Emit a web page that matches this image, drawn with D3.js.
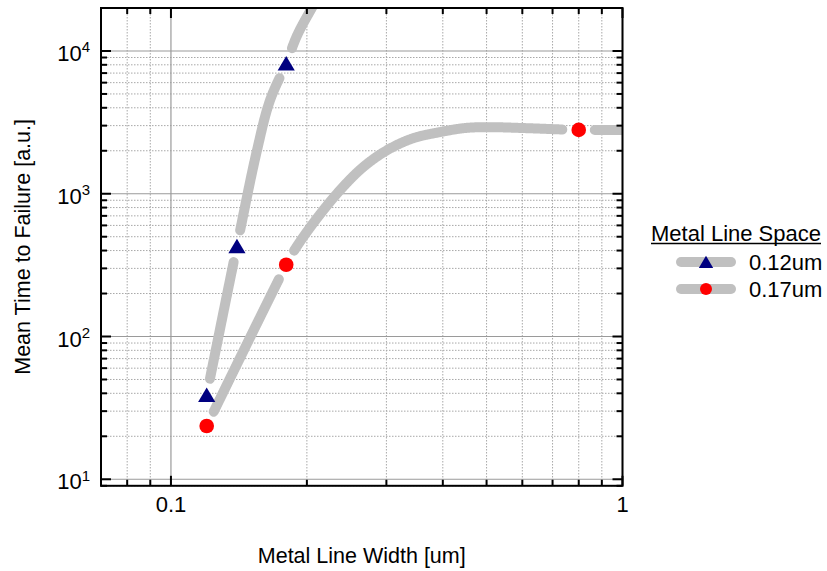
<!DOCTYPE html>
<html>
<head>
<meta charset="utf-8">
<script src="https://cdn.jsdelivr.net/npm/d3@7"></script>
<style>
  body { margin: 0; background: #fff; }
  text { font-family: "Liberation Sans", Arial, sans-serif; fill: #000; }
</style>
</head>
<body>
<svg id="chart" width="827" height="571"></svg>
<script>
// ---- data ----
const seriesNames = ["0.12um", "0.17um"];

// measured points, metal line space 0.12um
const width012 = [0.12, 0.14, 0.18];
const mttf012 = [39, 430, 8200];

// measured points, metal line space 0.17um
const width017 = [0.12, 0.18, 0.8];
const mttf017 = [23.6, 318, 2800];

// trend lines through each series
const trendX012 = [0.12, 0.14, 0.155, 0.1656, 0.18, 0.1905, 0.2051, 0.215];
const trendY012 = [39, 430, 2000, 4480, 8200, 12950, 20000, 26000];
const trendX017 = [0.12, 0.18, 0.1865, 0.2062, 0.2366, 0.266, 0.3005, 0.343, 0.3937, 0.45, 0.51, 0.6132, 0.763, 0.8, 1.0];
const trendY017 = [23.6, 318, 390, 617, 1055, 1529, 2012, 2441, 2700, 2890, 2925, 2880, 2808, 2800, 2800];

// axis ticks
const xMajorTicks = [0.1, 1];
const xMajorLabels = ["0.1", "1"];
const xMinorTicks = [0.07, 0.08, 0.09, 0.2, 0.3, 0.4, 0.5, 0.6, 0.7, 0.8, 0.9];
const yMajorExponents = [1, 2, 3, 4];
const yMinorTicks = [9, 20, 30, 40, 50, 60, 70, 80, 90, 200, 300, 400, 500, 600, 700, 800, 900,
                     2000, 3000, 4000, 5000, 6000, 7000, 8000, 9000, 20000];

const xTitle = "Metal Line Width [um]";
const yTitle = "Mean Time to Failure [a.u.]";
const legendTitle = "Metal Line Space";

// ---- layout ----
const plot = { left: 101, right: 622.5, top: 8, bottom: 485.8 };
const svg = d3.select("#chart");

const x = d3.scaleLog().domain([0.07, 1]).range([plot.left, plot.right]);
const y = d3.scaleLog().domain([9, 20000]).range([plot.bottom, plot.top]);

const trendColor = "#c0c0c0";
const triColor = "#000080";
const dotColor = "#ff0000";

// ---- grid ----
const grid = svg.append("g");
grid.selectAll("line.xminor").data(xMinorTicks).join("line")
  .attr("x1", d => x(d)).attr("x2", d => x(d))
  .attr("y1", plot.top).attr("y2", plot.bottom)
  .attr("stroke", "#a8a8a8").attr("stroke-width", 1).attr("stroke-dasharray", "1.5,1.5");
grid.selectAll("line.yminor").data(yMinorTicks).join("line")
  .attr("y1", d => y(d)).attr("y2", d => y(d))
  .attr("x1", plot.left).attr("x2", plot.right)
  .attr("stroke", "#a8a8a8").attr("stroke-width", 1).attr("stroke-dasharray", "1.5,1.5");
grid.selectAll("line.xmajor").data(xMajorTicks).join("line")
  .attr("x1", d => x(d)).attr("x2", d => x(d))
  .attr("y1", plot.top).attr("y2", plot.bottom)
  .attr("stroke", "#9a9a9a").attr("stroke-width", 1.2);
grid.selectAll("line.ymajor").data(yMajorExponents).join("line")
  .attr("y1", d => y(Math.pow(10, d))).attr("y2", d => y(Math.pow(10, d)))
  .attr("x1", plot.left).attr("x2", plot.right)
  .attr("stroke", "#9a9a9a").attr("stroke-width", 1.2);

// ---- trend lines, broken around each symbol ----
svg.append("defs").append("clipPath").attr("id", "plotClip")
  .append("rect").attr("x", plot.left).attr("y", plot.top)
  .attr("width", plot.right - plot.left).attr("height", plot.bottom - plot.top);

const curveGen = d3.line().x(d => x(d[0])).y(d => y(d[1])).curve(d3.curveCatmullRom.alpha(0.5));
const straight = d3.line();
const lineLayer = svg.append("g").attr("clip-path", "url(#plotClip)");
const gapRadius = 16;

function drawTrend(xs, ys, px, py) {
  const pts = xs.map((v, i) => [v, ys[i]]);
  const marks = px.map((v, i) => [x(v), y(py[i])]);
  const tmp = lineLayer.append("path").attr("d", curveGen(pts)).attr("fill", "none");
  const node = tmp.node();
  const total = node.getTotalLength();
  const runs = [];
  let run = [];
  for (let s = 0; s <= total; s += 0.5) {
    const p = node.getPointAtLength(s);
    const near = marks.some(m => Math.hypot(p.x - m[0], p.y - m[1]) < gapRadius);
    if (near) {
      if (run.length > 1) runs.push(run);
      run = [];
    } else {
      run.push([p.x, p.y]);
    }
  }
  if (run.length > 1) runs.push(run);
  tmp.remove();
  lineLayer.selectAll(null).data(runs).join("path")
    .attr("d", straight)
    .attr("fill", "none")
    .attr("stroke", trendColor)
    .attr("stroke-width", 10)
    .attr("stroke-linecap", "round")
    .attr("stroke-linejoin", "round");
}
drawTrend(trendX012, trendY012, width012, mttf012);
drawTrend(trendX017, trendY017, width017, mttf017);

// ---- symbols ----
const triPath = "M0,-7.4L8.6,7.2L-8.6,7.2Z";
svg.append("g").selectAll("path").data(width012).join("path")
  .attr("d", triPath)
  .attr("transform", (d, i) => `translate(${x(d)},${y(mttf012[i])})`)
  .attr("fill", triColor);
svg.append("g").selectAll("circle").data(width017).join("circle")
  .attr("cx", d => x(d)).attr("cy", (d, i) => y(mttf017[i]))
  .attr("r", 7.3).attr("fill", dotColor);

// ---- frame and ticks ----
const frame = svg.append("g").attr("stroke", "#000");
frame.append("rect")
  .attr("x", plot.left).attr("y", plot.top)
  .attr("width", plot.right - plot.left).attr("height", plot.bottom - plot.top)
  .attr("fill", "none").attr("stroke-width", 2);

const majorLen = 10, minorLen = 6;
const xTickList = xMajorTicks.map(v => [v, majorLen]).concat(xMinorTicks.map(v => [v, minorLen]));
const yTickList = yMajorExponents.map(e => [Math.pow(10, e), majorLen]).concat(yMinorTicks.map(v => [v, minorLen]));
frame.selectAll("line.xb").data(xTickList).join("line")
  .attr("x1", d => x(d[0])).attr("x2", d => x(d[0]))
  .attr("y1", plot.bottom).attr("y2", d => plot.bottom - d[1]).attr("stroke-width", 2);
frame.selectAll("line.xt").data(xTickList).join("line")
  .attr("x1", d => x(d[0])).attr("x2", d => x(d[0]))
  .attr("y1", plot.top).attr("y2", d => plot.top + d[1]).attr("stroke-width", 2);
frame.selectAll("line.yl").data(yTickList).join("line")
  .attr("y1", d => y(d[0])).attr("y2", d => y(d[0]))
  .attr("x1", plot.left).attr("x2", d => plot.left + d[1]).attr("stroke-width", 2);
frame.selectAll("line.yr").data(yTickList).join("line")
  .attr("y1", d => y(d[0])).attr("y2", d => y(d[0]))
  .attr("x1", plot.right).attr("x2", d => plot.right - d[1]).attr("stroke-width", 2);

// ---- tick labels ----
svg.append("g").selectAll("text").data(xMajorTicks).join("text")
  .attr("x", d => x(d)).attr("y", 511.5)
  .attr("text-anchor", "middle").attr("font-size", 22)
  .text((d, i) => xMajorLabels[i]);

const yLab = svg.append("g").selectAll("text").data(yMajorExponents).join("text")
  .attr("x", 90).attr("y", d => y(Math.pow(10, d)) + 10)
  .attr("text-anchor", "end").attr("font-size", 22);
yLab.append("tspan").text("10");
yLab.append("tspan").attr("font-size", 15).attr("dy", -8.5).text(d => d);

// ---- axis titles ----
svg.append("text")
  .attr("x", (plot.left + plot.right) / 2).attr("y", 562.5)
  .attr("text-anchor", "middle").attr("font-size", 21.5)
  .text(xTitle);
svg.append("text")
  .attr("transform", `translate(30,${(plot.top + plot.bottom) / 2}) rotate(-90)`)
  .attr("text-anchor", "middle").attr("font-size", 21.5)
  .text(yTitle);

// ---- legend ----
const legend = svg.append("g");
const lt = legend.append("text").attr("x", 651).attr("y", 240.5)
  .attr("font-size", 22).text(legendTitle);
const ltw = lt.node().getComputedTextLength();
legend.append("line").attr("x1", 651).attr("x2", 651 + ltw)
  .attr("y1", 243.5).attr("y2", 243.5).attr("stroke", "#000").attr("stroke-width", 1.5);

const rows = [
  { name: seriesNames[0], y: 262, symbol: "tri" },
  { name: seriesNames[1], y: 289, symbol: "dot" }
];
const row = legend.selectAll("g.row").data(rows).join("g")
  .attr("transform", d => `translate(0,${d.y})`);
row.append("line").attr("x1", 681).attr("x2", 731).attr("y1", 0).attr("y2", 0)
  .attr("stroke", trendColor).attr("stroke-width", 10).attr("stroke-linecap", "round");
row.filter(d => d.symbol === "tri").append("path")
  .attr("d", "M0,-6.2L7.2,6L-7.2,6Z").attr("transform", "translate(706,0)").attr("fill", triColor);
row.filter(d => d.symbol === "dot").append("circle")
  .attr("cx", 706).attr("cy", 0).attr("r", 6).attr("fill", dotColor);
row.append("text").attr("x", 749).attr("y", 8).attr("font-size", 22).text(d => d.name);
</script>
</body>
</html>
